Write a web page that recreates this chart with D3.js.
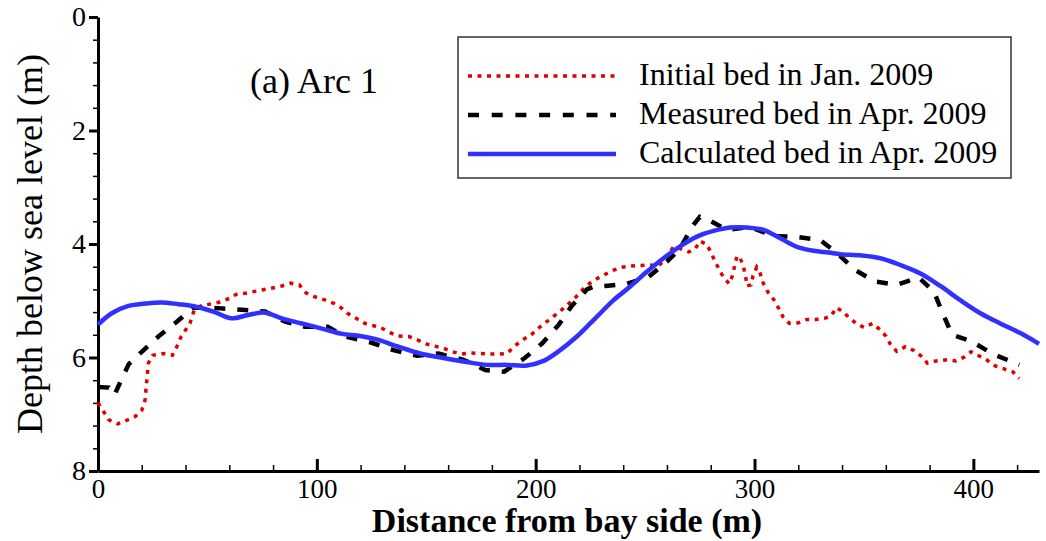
<!DOCTYPE html>
<html>
<head>
<meta charset="utf-8">
<script src="https://cdn.jsdelivr.net/npm/d3@7"></script>
<style>
  body { margin: 0; background: #fff; }
  svg { display: block; font-family: "Liberation Serif", "Times New Roman", serif; }
  svg text { font-family: "Liberation Serif", "Times New Roman", serif; }
</style>
</head>
<body>
<div id="chart"></div>
<script>
const width = 1046;
const height = 541;

// Initial bed in Jan. 2009 (red dotted)
const initialDist = [0, 2, 5, 9, 13, 17, 20, 21.5, 22.3, 23, 25, 30, 34, 36, 38, 42, 44, 47, 51, 55, 60, 63, 67, 75, 79, 84, 88, 92, 95, 99, 104, 108, 111, 114, 118, 122, 126, 130, 134, 137, 142, 146, 150, 154, 158, 162, 166, 170, 175, 179, 183, 187, 190, 194, 198, 201, 204, 207, 211, 214, 217, 220, 223, 227, 231, 235, 239, 243, 247, 252, 256, 259, 263, 266, 270, 273, 275, 278, 280, 282, 284, 286, 288.5, 290, 291, 292, 293.5, 295, 296, 296.5, 298.4, 299.3, 301, 302.6, 304, 306, 309, 311, 313, 316, 320, 324, 328, 332, 335, 337.4, 340, 343, 346.5, 350, 354, 357, 360, 362, 365, 369, 373, 376, 379, 383, 388, 392, 396, 399, 402, 406, 410, 414, 418, 421];
const initialDepth = [6.80, 6.92, 7.10, 7.17, 7.11, 7.04, 6.93, 6.75, 6.40, 6.10, 5.96, 5.93, 5.96, 5.81, 5.63, 5.40, 5.16, 5.09, 5.06, 5.03, 4.96, 4.89, 4.87, 4.81, 4.78, 4.74, 4.69, 4.72, 4.86, 4.93, 4.99, 5.05, 5.12, 5.22, 5.31, 5.40, 5.44, 5.49, 5.57, 5.62, 5.63, 5.69, 5.76, 5.80, 5.84, 5.90, 5.94, 5.92, 5.93, 5.94, 5.94, 5.93, 5.81, 5.69, 5.60, 5.49, 5.40, 5.31, 5.19, 5.09, 4.99, 4.87, 4.74, 4.63, 4.55, 4.47, 4.41, 4.39, 4.38, 4.37, 4.39, 4.28, 4.05, 4.08, 4.14, 4.08, 3.95, 4.00, 4.14, 4.31, 4.46, 4.60, 4.70, 4.55, 4.37, 4.21, 4.25, 4.41, 4.58, 4.74, 4.72, 4.56, 4.41, 4.52, 4.69, 4.84, 4.99, 5.13, 5.28, 5.40, 5.39, 5.33, 5.33, 5.31, 5.27, 5.12, 5.18, 5.29, 5.40, 5.47, 5.40, 5.50, 5.62, 5.76, 5.89, 5.81, 5.88, 5.97, 6.10, 6.06, 6.04, 6.06, 5.99, 5.90, 5.96, 6.04, 6.15, 6.20, 6.25, 6.37];

// Measured bed in Apr. 2009 (black dashed)
const measuredDist = [0, 5, 7.5, 10, 14, 20, 27.6, 36, 43.6, 55, 65.7, 76.3, 85.5, 94.6, 105, 113, 125, 135, 145.7, 155.6, 167, 177, 185.6, 195, 203, 210.4, 216.5, 223.4, 226, 231.8, 241.7, 251.6, 260, 266, 271.4, 275, 278.3, 287.4, 298, 308.7, 318.6, 330, 337.7, 346, 355, 365, 375, 382, 386, 390.3, 399.4, 408.5, 421];
const measuredDepth = [6.52, 6.53, 6.66, 6.45, 6.12, 5.90, 5.63, 5.37, 5.12, 5.13, 5.16, 5.19, 5.37, 5.46, 5.46, 5.63, 5.74, 5.87, 5.97, 5.93, 6.04, 6.22, 6.25, 6.01, 5.75, 5.43, 5.09, 4.80, 4.76, 4.74, 4.70, 4.58, 4.31, 4.08, 3.70, 3.52, 3.56, 3.75, 3.70, 3.86, 3.87, 3.93, 4.16, 4.46, 4.66, 4.72, 4.59, 4.84, 5.22, 5.60, 5.72, 5.93, 6.13];

// Calculated bed in Apr. 2009 (blue solid)
const calcDist = [0, 6.3, 13.9, 21.5, 29.1, 36.7, 44.3, 52.7, 61.1, 68.7, 76.3, 84, 93.1, 102.3, 111, 119.8, 127.4, 136.5, 147.2, 157.9, 168.5, 177.7, 186.8, 196, 203.6, 211.2, 218.8, 224.9, 228, 235.6, 243.2, 250.8, 258.4, 266, 273.7, 281.3, 288.9, 296.5, 304.1, 311.8, 319.4, 327, 333.9, 339.2, 348.3, 357.5, 366.6, 375.8, 384.9, 394, 403.2, 412.3, 421.5, 430];
const calcDepth = [5.42, 5.22, 5.09, 5.05, 5.03, 5.06, 5.10, 5.19, 5.31, 5.25, 5.21, 5.31, 5.40, 5.49, 5.58, 5.62, 5.68, 5.80, 5.93, 6.01, 6.08, 6.13, 6.13, 6.14, 6.06, 5.87, 5.63, 5.40, 5.28, 4.99, 4.75, 4.49, 4.25, 4.04, 3.87, 3.77, 3.71, 3.71, 3.75, 3.90, 4.05, 4.12, 4.15, 4.18, 4.20, 4.25, 4.37, 4.52, 4.74, 4.99, 5.22, 5.40, 5.57, 5.76];

const xMajor = [0, 100, 200, 300, 400];
const yMajor = [0, 2, 4, 6, 8];
const legendLabels = ['Initial bed in Jan. 2009', 'Measured bed in Apr. 2009', 'Calculated bed in Apr. 2009'];

const svg = d3.select('#chart')
    .append('svg')
    .attr('width', width)
    .attr('height', height)

const x = d3.scaleLinear().domain([0, 430]).range([98, 1039])
const y = d3.scaleLinear().domain([0, 8]).range([17, 471])

// minor ticks first
svg.append('g')
    .attr('transform', `translate(${x(0)},0)`)
    .call(d3.axisLeft(y).tickValues(d3.range(0, 8.01, 0.4)).tickSize(5).tickFormat(''))
    .call(g => g.select('.domain').remove())
    .selectAll('line').attr('stroke-width', 1.5)

svg.append('g')
    .attr('transform', `translate(0,${y(8)})`)
    .call(d3.axisBottom(x).tickValues(d3.range(0, 430, 20)).tickSize(-6).tickFormat(''))
    .call(g => g.select('.domain').remove())
    .selectAll('line').attr('stroke-width', 1.5)

const yAxis = svg.append('g')
    .attr('transform', `translate(${x(0)},0)`)
    .call(d3.axisLeft(y).tickValues(yMajor).tickSize(9).tickSizeOuter(0).tickPadding(3).tickFormat(d3.format('d')))
    .attr('font-family', null)
yAxis.select('.domain').attr('stroke-width', 3)
yAxis.selectAll('line').attr('stroke-width', 3)
yAxis.selectAll('text').attr('font-size', 28)

const xAxis = svg.append('g')
    .attr('transform', `translate(0,${y(8)})`)
    .call(d3.axisBottom(x).tickValues(xMajor).tickSize(-12).tickSizeOuter(0).tickPadding(8).tickFormat(d3.format('d')))
    .attr('font-family', null)
xAxis.select('.domain').attr('stroke-width', 3)
xAxis.selectAll('line').attr('stroke-width', 3)
xAxis.selectAll('text').attr('font-size', 27)

// curves
const line = d3.line().x(d => x(d[0])).y(d => y(d[1]))

svg.append('path')
    .datum(d3.zip(initialDist, initialDepth))
    .attr('d', line)
    .attr('fill', 'none')
    .attr('stroke', '#e00000')
    .attr('stroke-width', 3.5)
    .attr('stroke-dasharray', '4,5.5')

svg.append('path')
    .datum(d3.zip(measuredDist, measuredDepth))
    .attr('d', line)
    .attr('fill', 'none')
    .attr('stroke', '#000')
    .attr('stroke-width', 4.5)
    .attr('stroke-dasharray', '11,12')

svg.append('path')
    .datum(d3.zip(calcDist, calcDepth))
    .attr('d', line.curve(d3.curveCatmullRom))
    .attr('fill', 'none')
    .attr('stroke', '#3030ff')
    .attr('stroke-width', 4.5)

// legend
svg.append('rect')
    .attr('x', 458).attr('y', 37)
    .attr('width', 553).attr('height', 141)
    .attr('fill', '#fff')
    .attr('stroke', '#333')
    .attr('stroke-width', 1.5)

const legendStyles = [
    { stroke: '#e00000', w: 3.5, dash: '4,5.5' },
    { stroke: '#000', w: 4.5, dash: '11,12.7' },
    { stroke: '#3030ff', w: 4.5, dash: null }
]
const legendY = [76, 115, 154]

legendLabels.forEach((label, i) => {
    svg.append('line')
        .attr('x1', 468).attr('x2', 616)
        .attr('y1', legendY[i]).attr('y2', legendY[i])
        .attr('stroke', legendStyles[i].stroke)
        .attr('stroke-width', legendStyles[i].w)
        .attr('stroke-dasharray', legendStyles[i].dash)
    svg.append('text')
        .attr('x', 639)
        .attr('y', legendY[i] + 9)
        .attr('font-size', 32)
        .text(label)
})

svg.append('text')
    .attr('x', 250).attr('y', 93)
    .attr('font-size', 36)
    .text('(a) Arc 1')

// axis titles
svg.append('text')
    .attr('x', 567).attr('y', 532)
    .attr('text-anchor', 'middle')
    .attr('font-size', 34)
    .attr('font-weight', 'bold')
    .text('Distance from bay side (m)')

svg.append('text')
    .attr('transform', `translate(42,${(y(0) + y(8)) / 2}) rotate(-90)`)
    .attr('text-anchor', 'middle')
    .attr('font-size', 36)
    .text('Depth below sea level (m)')
</script>
</body>
</html>
